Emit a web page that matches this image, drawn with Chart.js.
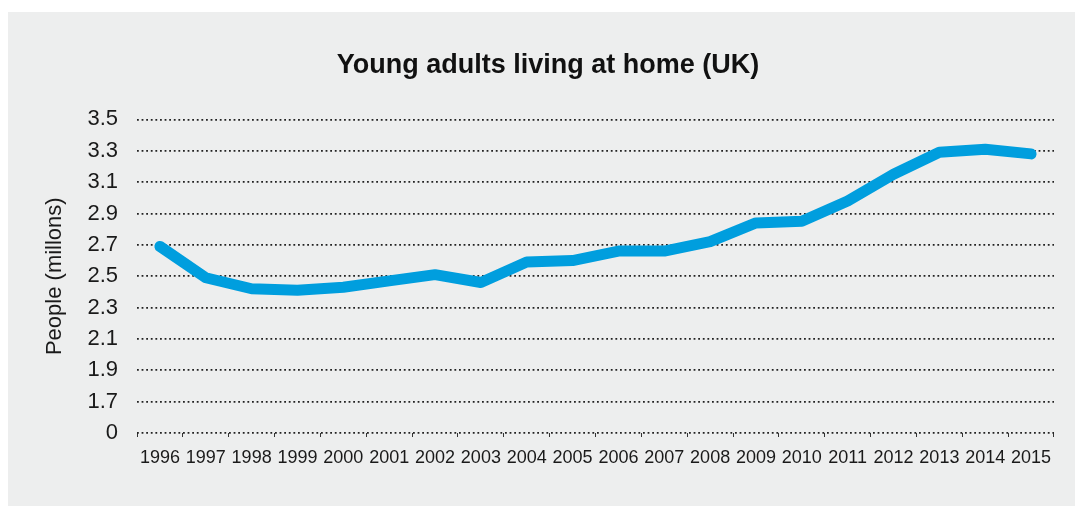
<!DOCTYPE html>
<html>
<head>
<meta charset="utf-8">
<title>Young adults living at home (UK)</title>
<script src="https://cdn.jsdelivr.net/npm/chart.js@4"></script>
<style>
  html, body { margin: 0; padding: 0; background: #ffffff; }
  canvas { display: block; }
</style>
</head>
<body>
<canvas id="chart" width="1075" height="506"></canvas>
<script>
// Years on the horizontal axis
const years = ['1996','1997','1998','1999','2000','2001','2002','2003','2004','2005',
               '2006','2007','2008','2009','2010','2011','2012','2013','2014','2015'];

// Young adults living with parents, millions
const peopleMillions = [2.69, 2.49, 2.42, 2.41, 2.43, 2.47, 2.51, 2.46, 2.59, 2.60,
                        2.66, 2.66, 2.72, 2.84, 2.85, 2.98, 3.15, 3.29, 3.31, 3.28];

// Vertical axis labels, bottom to top (the axis is broken below 1.7)
const yTickLabels = ['0', '1.7', '1.9', '2.1', '2.3', '2.5', '2.7', '2.9', '3.1', '3.3', '3.5'];

const FONT = "'Liberation Sans', Arial, sans-serif";

// Grey panel behind the chart
const panelBackground = {
  id: 'panelBackground',
  beforeDraw(chart) {
    const ctx = chart.ctx;
    ctx.save();
    ctx.fillStyle = '#ffffff';
    ctx.fillRect(0, 0, chart.width, chart.height);
    ctx.fillStyle = '#edeeee';
    ctx.fillRect(8, 12, chart.width - 8, chart.height - 12);
    ctx.restore();
  }
};

new Chart(document.getElementById('chart'), {
  type: 'line',
  data: {
    labels: years,
    datasets: [{
      label: 'People (millons)',
      data: peopleMillions,
      borderColor: '#009ede',
      backgroundColor: '#009ede',
      borderWidth: 11,
      borderCapStyle: 'round',
      borderJoinStyle: 'round',
      pointRadius: 0,
      pointHoverRadius: 0,
      tension: 0,
      fill: false
    }]
  },
  plugins: [panelBackground],
  options: {
    responsive: false,
    animation: false,
    events: [],
    layout: { padding: { left: 42, right: 21, top: 12, bottom: 27 } },
    plugins: {
      legend: { display: false },
      tooltip: { enabled: false },
      title: {
        display: true,
        text: 'Young adults living at home (UK)',
        color: '#111111',
        font: { family: FONT, size: 27, weight: 'bold', lineHeight: 1.2 },
        padding: { top: 37, bottom: 38 }
      }
    },
    scales: {
      x: {
        type: 'category',
        offset: true,
        border: { display: false },
        grid: {
          offset: true,
          drawOnChartArea: false,
          drawTicks: true,
          tickLength: 4,
          color: '#333333',
          lineWidth: 1
        },
        ticks: {
          color: '#1a1a1a',
          font: { family: FONT, size: 18, lineHeight: 1 },
          padding: 12,
          maxRotation: 0,
          minRotation: 0,
          autoSkip: false
        }
      },
      y: {
        min: 1.5,
        max: 3.5,
        border: { display: false, dash: [1.8, 2.8] },
        afterFit(scale) { scale.width = 95; },
        grid: {
          drawTicks: false,
          color: '#222222',
          lineWidth: 1.8
        },
        ticks: {
          stepSize: 0.2,
          color: '#1a1a1a',
          font: { family: FONT, size: 22 },
          padding: 19,
          callback: (value, index) => yTickLabels[index]
        },
        title: {
          display: true,
          text: 'People (millons)',
          color: '#1a1a1a',
          font: { family: FONT, size: 22, lineHeight: 1.2 },
          padding: { top: 0, bottom: 0 }
        }
      }
    }
  }
});
</script>
</body>
</html>
